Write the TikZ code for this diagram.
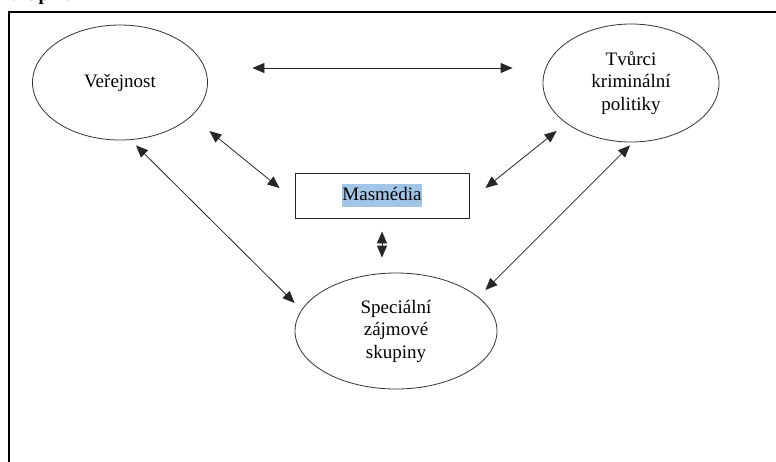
\documentclass[tikz,border=0pt]{standalone}
\usepackage{fontspec}
\setmainfont{Liberation Serif}
\usetikzlibrary{arrows.meta,shapes.geometric}
\definecolor{hilite}{RGB}{160,197,230}
\begin{document}
\begin{tikzpicture}
[x=1pt,y=-1pt,
 actor/.style={draw=black!80,ellipse,line width=0.8pt,inner sep=0pt,align=center},
 mediabox/.style={draw=black!85,rectangle,line width=0.9pt,inner sep=0pt,minimum width=174pt,minimum height=45pt},
 link/.style={{Triangle[length=12pt,width=10pt]}-{Triangle[length=12pt,width=10pt]},line width=0.8pt,black!85}]
\fontsize{19}{22.5}\selectfont
\useasboundingbox (0,0) rectangle (776,461);
% frame and cut caption
\node[anchor=base west,inner sep=0pt,font=\bfseries] (caption) at (10,0.5) {skupinami};
\draw[line width=1.4pt] (9,480) -- (9,12) -- (800,12);
% actors
\node[actor,minimum width=175pt,minimum height=115pt] (verejnost) at (120,82.5) {Veřejnost};
\node[actor,minimum width=176pt,minimum height=118pt] (tvurci) at (631,83) {Tvůrci\\kriminální\\politiky};
\node[actor,minimum width=202pt,minimum height=116pt] (skupiny) at (396,331) {Speciální\\zájmové\\skupiny};
\node[mediabox] (masmedia) at (382,195.5) {\fboxsep=0.5pt\colorbox{hilite}{\strut Masmédia}};
% links
\draw[link] ([shift={(44.5,-14.5)}]verejnost.east) -- ([shift={(-30,-15)}]tvurci.west);
\draw[link] ([shift={(1.5,48.5)}]verejnost.east) -- ([shift={(-15,-7.5)}]masmedia.west);
\draw[link] ([shift={(16,5)}]verejnost.south) -- ([shift={(0,-28)}]skupiny.west);
\draw[link] ([shift={(14,48)}]tvurci.west) -- ([shift={(16,-7.5)}]masmedia.east);
\draw[link] ([shift={(-1,3)}]tvurci.south) -- ([shift={(-12,-41)}]skupiny.east);
\draw[link] ([shift={(0,13)}]masmedia.south) -- ([shift={(-14,-15)}]skupiny.north);
\end{tikzpicture}
\end{document}
